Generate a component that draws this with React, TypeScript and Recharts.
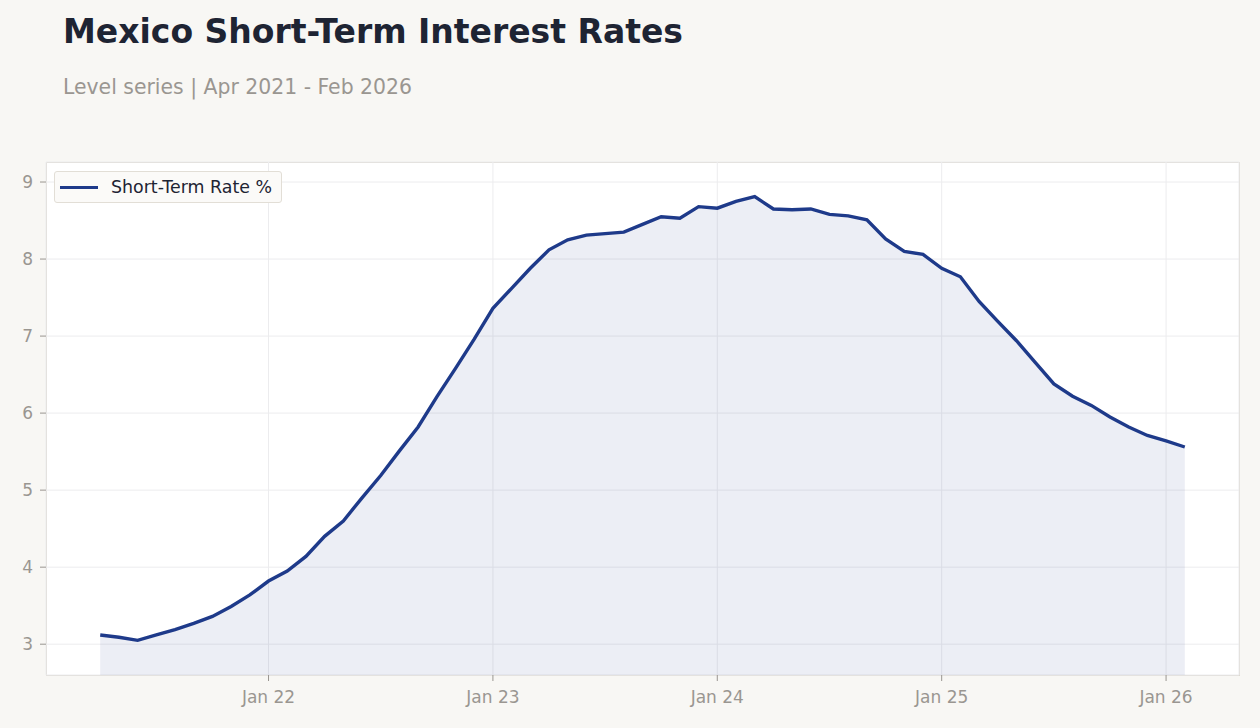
import React from "react";
import { ComposedChart, Area, XAxis, YAxis, CartesianGrid } from "recharts";

const months = [
  "Apr 21", "May 21", "Jun 21", "Jul 21", "Aug 21", "Sep 21", "Oct 21", "Nov 21", "Dec 21",
  "Jan 22", "Feb 22", "Mar 22", "Apr 22", "May 22", "Jun 22", "Jul 22", "Aug 22", "Sep 22", "Oct 22", "Nov 22", "Dec 22",
  "Jan 23", "Feb 23", "Mar 23", "Apr 23", "May 23", "Jun 23", "Jul 23", "Aug 23", "Sep 23", "Oct 23", "Nov 23", "Dec 23",
  "Jan 24", "Feb 24", "Mar 24", "Apr 24", "May 24", "Jun 24", "Jul 24", "Aug 24", "Sep 24", "Oct 24", "Nov 24", "Dec 24",
  "Jan 25", "Feb 25", "Mar 25", "Apr 25", "May 25", "Jun 25", "Jul 25", "Aug 25", "Sep 25", "Oct 25", "Nov 25", "Dec 25",
  "Jan 26", "Feb 26",
];

const rates = [
  3.12, 3.09, 3.05, 3.12, 3.19, 3.27, 3.36, 3.49, 3.64,
  3.82, 3.95, 4.14, 4.40, 4.60, 4.90, 5.19, 5.51, 5.82, 6.21, 6.58, 6.96,
  7.36, 7.62, 7.88, 8.12, 8.25, 8.31, 8.33, 8.35, 8.45, 8.55, 8.53, 8.68,
  8.66, 8.75, 8.81, 8.65, 8.64, 8.65, 8.58, 8.56, 8.51, 8.26, 8.10, 8.06,
  7.88, 7.77, 7.45, 7.19, 6.94, 6.66, 6.38, 6.22, 6.10, 5.95, 5.82, 5.71,
  5.64, 5.56,
];

const xTicks = [9, 21, 33, 45, 57];
const yTicks = [3, 4, 5, 6, 7, 8, 9];

const data = months.map((m, i) => ({ idx: i, label: m, rate: rates[i] }));

const FONT = '"DejaVu Sans", sans-serif';
const LINE = "#1e3a8a";

function LegendBox() {
  return (
    <div
      style={{
        position: "absolute",
        left: 54,
        top: 171,
        display: "flex",
        alignItems: "center",
        height: 32,
        width: 228,
        boxSizing: "border-box",
        background: "#fbfaf8",
        border: "1px solid #e2ded6",
        borderRadius: 3,
        fontFamily: FONT,
        fontSize: 17.4,
        color: "#1e2433",
      }}
    >
      <div style={{ width: 38, height: 3, background: LINE, marginLeft: 5, marginRight: 13 }} />
      <span>Short-Term Rate %</span>
    </div>
  );
}

export default function App() {
  return (
    <div style={{ position: "absolute", left: 0, top: 0, width: 1260, height: 728, background: "#f8f7f4", overflow: "hidden" }}>
      <div style={{ position: "absolute", left: 63, top: 12, fontFamily: FONT, fontWeight: "bold", fontSize: 33, color: "#1e2433", whiteSpace: "nowrap" }}>
        Mexico Short-Term Interest Rates
      </div>
      <div style={{ position: "absolute", left: 63, top: 75, fontFamily: FONT, fontSize: 20.4, color: "#9a9691", whiteSpace: "nowrap" }}>
        Level series | Apr 2021 - Feb 2026
      </div>
      <div
        style={{
          position: "absolute",
          left: 46,
          top: 162,
          width: 1194,
          height: 514,
          boxSizing: "border-box",
          background: "#ffffff",
          border: "1px solid #ddd9d0",
        }}
      />
      <div style={{ position: "absolute", left: 0, top: 0 }}>
        <ComposedChart width={1260} height={728} data={data} margin={{ top: 162, right: 21, bottom: 23, left: 6 }}>
          <CartesianGrid stroke="#ececee" strokeWidth={1} />
          <XAxis
            dataKey="idx"
            type="number"
            domain={[-2.9, 60.9]}
            ticks={xTicks}
            tickFormatter={(v: number) => "Jan " + months[v].slice(4)}
            axisLine={false}
            tickLine={{ stroke: "#999590" }}
            tickSize={6}
            tickMargin={10}
            height={30}
            tick={{ fill: "#9a9691", fontSize: 17, fontFamily: FONT }}
          />
          <YAxis
            type="number"
            domain={[2.6, 9.26]}
            ticks={yTicks}
            allowDataOverflow
            axisLine={false}
            tickLine={{ stroke: "#999590" }}
            tickSize={6}
            tickMargin={7}
            width={40}
            tick={{ fill: "#9a9691", fontSize: 17, fontFamily: FONT }}
          />
          <Area
            type="linear"
            dataKey="rate"
            name="Short-Term Rate %"
            stroke={LINE}
            strokeWidth={3.4}
            fill={LINE}
            fillOpacity={0.085}
            dot={false}
            activeDot={false}
            isAnimationActive={false}
          />
        </ComposedChart>
      </div>
      <LegendBox />
    </div>
  );
}
